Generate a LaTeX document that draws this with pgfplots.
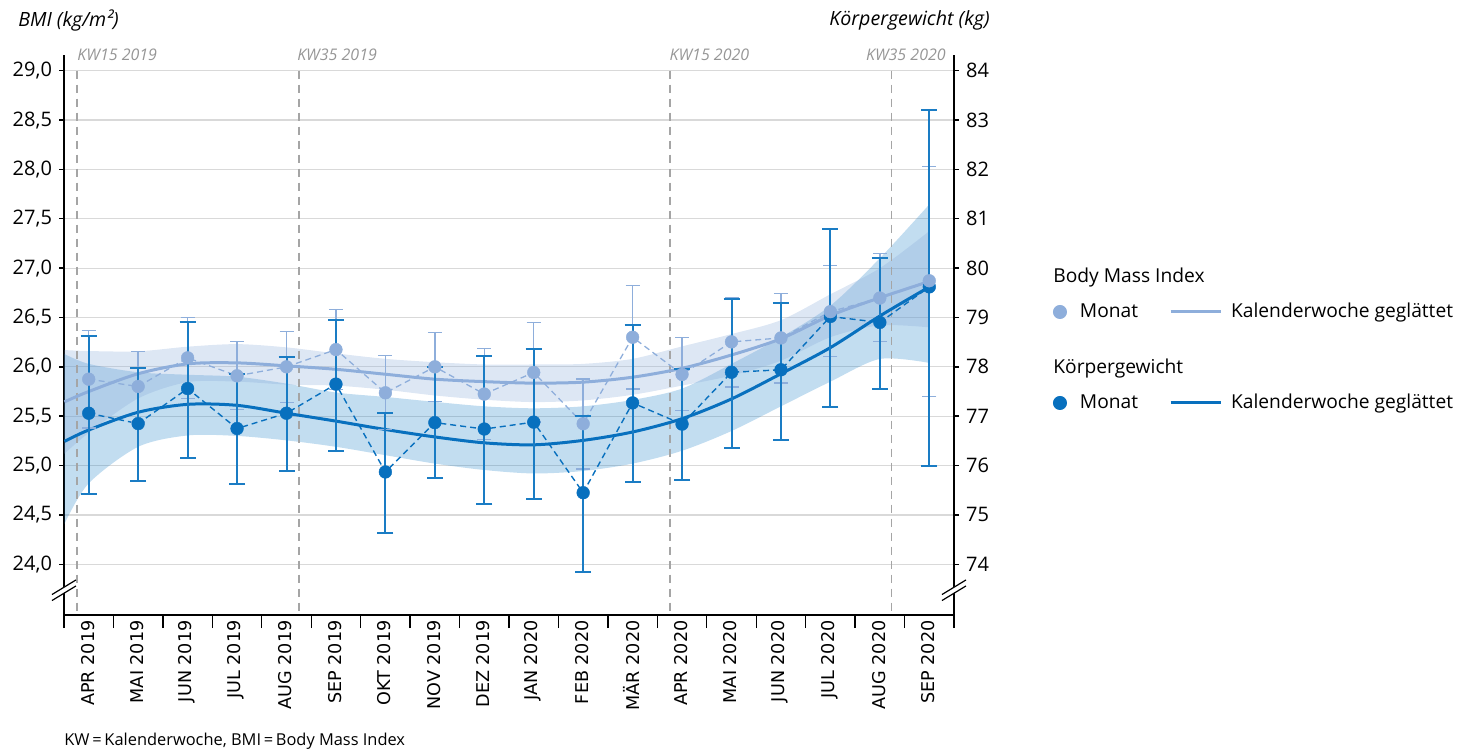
\documentclass[border=0pt]{standalone}
\usepackage{fontspec}
\setmainfont{Open Sans}
\newfontfamily\dejavu{DejaVu Sans}
\usepackage{pgfplots}
\pgfplotsset{compat=1.18}
\usepackage{pgfplotstable}
\usepgfplotslibrary{fillbetween}

\definecolor{lightpt}{RGB}{142,174,219}
\definecolor{darkpt}{RGB}{8,112,190}
\definecolor{darkbar}{RGB}{26,124,196}
\definecolor{gridc}{RGB}{217,217,217}
\definecolor{kwgrey}{RGB}{165,165,165}
\definecolor{kwtext}{RGB}{150,150,150}
\definecolor{bandD}{RGB}{10,118,196}

% BMI, monthly mean with error range
\pgfplotstableread{
x bmi up lo
0 25.875 26.367 25.38
1 25.801 26.158 25.44
2 26.091 26.502 25.68
3 25.909 26.259 25.57
4 26.000 26.360 25.64
5 26.175 26.579 25.77
6 25.737 26.114 25.367
7 26.000 26.350 25.65
8 25.724 26.185 25.266
9 25.943 26.451 25.44
10 25.424 25.875 24.966
11 26.300 26.825 25.774
12 25.923 26.296 25.559
13 26.253 26.700 25.795
14 26.293 26.741 25.835
15 26.559 27.027 26.104
16 26.697 27.148 26.259
17 26.872 28.030 25.700
}\bmimon

% Koerpergewicht (kg), monthly mean with error range
\pgfplotstableread{
x kg up lo
0 77.06 78.63 75.42
1 76.85 77.97 75.69
2 77.56 78.90 76.15
3 76.75 77.86 75.63
4 77.06 78.20 75.89
5 77.65 78.94 76.30
6 75.87 77.06 74.64
7 76.87 77.99 75.74
8 76.74 78.22 75.22
9 76.88 78.37 75.33
10 75.45 77.00 73.85
11 77.27 78.84 75.67
12 76.84 77.96 75.70
13 77.89 79.37 76.35
14 77.94 79.30 76.51
15 79.02 80.80 77.19
16 78.90 80.20 77.55
17 79.62 83.20 75.99
}\kgmon

% BMI, calendar week smoothed with band
\pgfplotstableread{
x mid up lo
-0.49 25.645 26.170 25.120
0 25.750 26.160 25.330
1 25.930 26.157 25.680
2 26.030 26.204 25.845
3 26.040 26.230 25.850
4 26.010 26.197 25.820
5 25.975 26.136 25.810
6 25.925 26.081 25.768
7 25.875 26.047 25.710
8 25.850 26.024 25.667
9 25.835 26.024 25.643
10 25.845 26.030 25.660
11 25.895 26.081 25.717
12 25.985 26.207 25.810
13 26.120 26.332 25.911
14 26.285 26.473 26.062
15 26.520 26.735 26.300
16 26.700 27.000 26.420
17 26.865 27.375 26.400
}\bmism

% Koerpergewicht (kg), calendar week smoothed with band
\pgfplotstableread{
x mid up lo
-0.49 76.49 78.26 74.82
0 76.72 78.06 75.64
1 77.08 77.89 76.38
2 77.24 77.84 76.61
3 77.22 77.80 76.60
4 77.06 77.66 76.51
5 76.90 77.48 76.38
6 76.73 77.39 76.21
7 76.58 77.29 76.04
8 76.46 77.20 75.91
9 76.42 77.16 75.84
10 76.51 77.20 75.89
11 76.68 77.33 76.04
12 76.95 77.56 76.30
13 77.35 78.06 76.70
14 77.86 78.60 77.20
15 78.39 79.24 77.70
16 79.03 80.20 78.16
17 79.62 81.29 78.08
}\kgsm

\begin{document}
\begin{tikzpicture}

\begin{axis}[
  at={(32pt,68.5pt)}, anchor=south west,
  scale only axis, width=445pt, height=280pt,
  xmin=-0.5, xmax=17.5, ymin=23.486, ymax=29.159,
  axis x line*=bottom, axis y line*=left,
  axis line style={line width=0.7pt, black},
  clip=false,
  xtick={0,...,17},
  xticklabels={APR 2019,MAI 2019,JUN 2019,JUL 2019,AUG 2019,SEP 2019,OKT 2019,NOV 2019,DEZ 2019,JAN 2020,FEB 2020,MÄR 2020,APR 2020,MAI 2020,JUN 2020,JUL 2020,AUG 2020,SEP 2020},
  minor xtick={-0.5,0.5,...,17.5},
  tick align=outside,
  major tick length=2.5pt, minor tick length=6.5pt,
  tick style={black, line width=0.7pt},
  major x tick style={draw=none},
  ytick={24,24.5,...,29},
  ymajorgrids, grid style={gridc, line width=0.6pt},
  /pgf/number format/assume math mode=true,
  xticklabel style={rotate=90, anchor=east, inner sep=0pt, yshift=0.5pt, font=\dejavu\fontsize{8.8}{10}\selectfont},
  yticklabel style={font=\fontsize{10}{12}\selectfont, /pgf/number format/.cd, fixed, fixed zerofill, precision=1, use comma},
  legend style={at={(1.1112,0.5411)}, anchor=west, draw=none, fill=none, inner sep=0pt, outer sep=0pt,
    font=\fontsize{9.6}{11}\selectfont, nodes={inner sep=0pt}, /tikz/column sep=0pt},
  legend columns=2, legend cell align=left,
]
\addlegendimage{legend image code/.code={\fill[lightpt] (3.3pt,0pt) circle[radius=3.3pt];}}
\addlegendentry{\hspace*{6.5pt}Monat\hspace*{15.5pt}}
\addlegendimage{legend image code/.code={\draw[lightpt, line width=1.5pt] (0pt,0pt) -- (25pt,0pt);}}
\addlegendentry{\hspace*{4.5pt}Kalenderwoche geglättet}

% calendar week markers
\draw[kwgrey, line width=0.7pt, dash pattern=on 4pt off 3pt] (axis cs:-0.237,29.0) -- (axis cs:-0.237,23.486);
\draw[kwgrey, line width=0.7pt, dash pattern=on 4pt off 3pt] (axis cs:4.25,29.0) -- (axis cs:4.25,23.486);
\draw[kwgrey, line width=0.7pt, dash pattern=on 4pt off 3pt] (axis cs:11.76,29.0) -- (axis cs:11.76,23.486);
\draw[kwgrey, line width=0.7pt, dash pattern=on 4pt off 3pt] (axis cs:16.23,29.0) -- (axis cs:16.23,23.486);
\node[anchor=west, inner sep=0pt, text=kwtext, font=\itshape\fontsize{8}{9}\selectfont] at (axis cs:-0.237,29.159) {KW15 2019};
\node[anchor=west, inner sep=0pt, text=kwtext, font=\itshape\fontsize{8}{9}\selectfont] at (axis cs:4.21,29.159) {KW35 2019};
\node[anchor=west, inner sep=0pt, text=kwtext, font=\itshape\fontsize{8}{9}\selectfont] at (axis cs:11.74,29.159) {KW15 2020};
\node[anchor=east, inner sep=0pt, text=kwtext, font=\itshape\fontsize{8}{9}\selectfont] at (axis cs:17.34,29.159) {KW35 2020};

% bands
\addplot[name path=dU, draw=none, smooth, forget plot] table[x=x, y expr={(\thisrow{up}-26)/2}] {\kgsm};
\addplot[name path=dL, draw=none, smooth, forget plot] table[x=x, y expr={(\thisrow{lo}-26)/2}] {\kgsm};
\addplot[fill=bandD, fill opacity=0.25, draw=none, forget plot] fill between[of=dU and dL];
\addplot[name path=bU, draw=none, smooth, forget plot] table[x=x, y=up] {\bmism};
\addplot[name path=bL, draw=none, smooth, forget plot] table[x=x, y=lo] {\bmism};
\addplot[fill=lightpt, fill opacity=0.3, draw=none, forget plot] fill between[of=bU and bL];

% smoothed lines
\addplot[lightpt, line width=1.5pt, smooth, forget plot] table[x=x, y=mid] {\bmism};
\addplot[darkpt, line width=1.5pt, smooth, forget plot] table[x=x, y expr={(\thisrow{mid}-26)/2}] {\kgsm};

% dashed connectors
\addplot[lightpt, line width=0.65pt, dash pattern=on 3pt off 2pt, forget plot] table[x=x, y=bmi] {\bmimon};
\addplot[darkpt, line width=0.7pt, dash pattern=on 3pt off 2pt, forget plot] table[x=x, y expr={(\thisrow{kg}-26)/2}] {\kgmon};

% error bars
\addplot[lightpt, only marks, mark=none, forget plot,
  error bars/.cd, y dir=both, y explicit,
  error bar style={draw=lightpt, line width=0.7pt},
  error mark options={draw=lightpt, line width=0.7pt, mark size=3.5pt, rotate=90}]
  table[x=x, y=bmi, y error plus expr={\thisrow{up}-\thisrow{bmi}}, y error minus expr={\thisrow{bmi}-\thisrow{lo}}] {\bmimon};
\addplot[darkbar, only marks, mark=none, forget plot,
  error bars/.cd, y dir=both, y explicit,
  error bar style={draw=darkbar, line width=1pt},
  error mark options={draw=darkbar, line width=1pt, mark size=4pt, rotate=90}]
  table[x=x, y expr={(\thisrow{kg}-26)/2}, y error plus expr={(\thisrow{up}-\thisrow{kg})/2}, y error minus expr={(\thisrow{kg}-\thisrow{lo})/2}] {\kgmon};

% monthly points
\addplot[darkpt, only marks, mark=*, mark size=3.2pt, mark options={fill=darkpt, draw=darkpt, line width=0.2pt}, forget plot]
  table[x=x, y expr={(\thisrow{kg}-26)/2}] {\kgmon};
\addplot[lightpt, only marks, mark=*, mark size=3.2pt, mark options={fill=lightpt, draw=lightpt, line width=0.2pt}, forget plot]
  table[x=x, y=bmi] {\bmimon};

\coordinate (brL) at (axis cs:-0.5,23.74);
\coordinate (brR) at (axis cs:17.5,23.74);
\end{axis}

\begin{axis}[
  at={(32pt,68.5pt)}, anchor=south west,
  scale only axis, width=445pt, height=280pt,
  xmin=-0.5, xmax=17.5, ymin=72.972, ymax=84.318,
  axis y line*=right, axis x line=none,
  axis line style={line width=0.7pt, black},
  ytick={74,...,84},
  tick align=outside, major tick length=2.5pt,
  tick style={black, line width=0.7pt},
  /pgf/number format/assume math mode=true,
  yticklabel style={font=\fontsize{10}{12}\selectfont},
  legend style={at={(1.1112,0.3786)}, anchor=west, draw=none, fill=none, inner sep=0pt, outer sep=0pt,
    font=\fontsize{9.6}{11}\selectfont, nodes={inner sep=0pt}, /tikz/column sep=0pt},
  legend columns=2, legend cell align=left,
]
\addlegendimage{legend image code/.code={\fill[darkpt] (3.3pt,0pt) circle[radius=3.3pt];}}
\addlegendentry{\hspace*{6.5pt}Monat\hspace*{15.5pt}}
\addlegendimage{legend image code/.code={\draw[darkpt, line width=1.5pt] (0pt,0pt) -- (25pt,0pt);}}
\addlegendentry{\hspace*{4.5pt}Kalenderwoche geglättet}
\addplot[draw=none, forget plot] coordinates {(0,74)};
\end{axis}

% axis breaks
\foreach \p in {brL,brR}{
  \draw[white, line width=2.6pt] (\p) ++(-5pt,-3.1pt) -- ++(10pt,6.2pt);
  \draw[black, line width=0.6pt] (\p) ++(-6pt,-2.3pt) -- ++(12pt,7.3pt);
  \draw[black, line width=0.6pt] (\p) ++(-6pt,-5.3pt) -- ++(12pt,7.3pt);
}

% titles
\node[anchor=west, inner sep=0pt, font=\itshape\fontsize{9.8}{11}\selectfont] at (9pt,366pt) {BMI (kg/m²)};
\node[anchor=east, inner sep=0pt, font=\itshape\fontsize{9.8}{11}\selectfont] at (495pt,366pt) {Körpergewicht (kg)};
\node[anchor=west, inner sep=0pt, font=\fontsize{9.6}{11}\selectfont] at (526.5pt,237pt) {Body Mass Index};
\node[anchor=west, inner sep=0pt, font=\fontsize{9.6}{11}\selectfont] at (526.5pt,191.5pt) {Körpergewicht};
\node[anchor=west, inner sep=0pt, font=\fontsize{8.2}{9}\selectfont] at (32pt,5.5pt) {KW\,=\,Kalenderwoche, BMI\,=\,Body Mass Index};

\pgfresetboundingbox
\path[use as bounding box] (0pt,0pt) rectangle (737pt,376pt);
\end{tikzpicture}
\end{document}
